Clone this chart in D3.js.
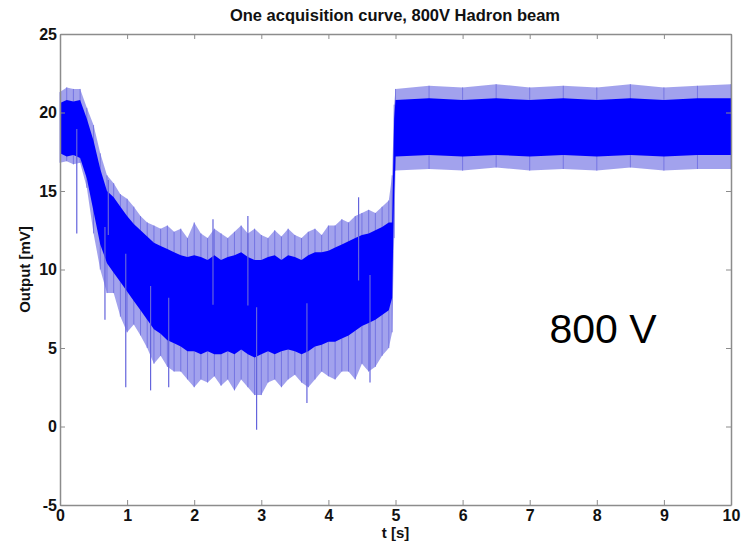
<!DOCTYPE html>
<html>
<head>
<meta charset="utf-8">
<script src="https://cdn.jsdelivr.net/npm/d3@7"></script>
<style>
  body { margin: 0; background: #fff; }
  text { font-family: "Liberation Sans", Arial, Helvetica, sans-serif; }
</style>
</head>
<body>
<div id="graph"></div>
<script>
// envelope of the acquisition (t in s, values in mV)
var times  = [0, .1, .2, .3, .4, .5, .6, .7, .8, .9,
              1, 1.1, 1.2, 1.3, 1.4, 1.5, 1.6, 1.7, 1.8, 1.9,
              2, 2.1, 2.2, 2.3, 2.4, 2.5, 2.6, 2.7, 2.8, 2.9,
              3, 3.1, 3.2, 3.3, 3.4, 3.5, 3.6, 3.7, 3.8, 3.9,
              4, 4.1, 4.2, 4.3, 4.4, 4.5, 4.6, 4.7, 4.8, 4.9,
              4.95, 4.98, 5, 5.5, 6, 6.5, 7, 7.5, 8, 8.5, 9, 9.5, 10]
var peakHi = [21.3, 21.6, 21.5, 21.5, 20.3, 19.2, 17.4, 16.0, 15.5, 14.8,
              14.5, 14.0, 13.4, 13.0, 12.8, 12.6, 12.8, 12.4, 12.6, 12.0,
              13.0, 12.3, 12.0, 12.6, 12.3, 12.0, 12.4, 12.8, 12.3, 12.6,
              12.2, 12.0, 12.5, 12.1, 12.6, 12.2, 12.0, 12.4, 12.6, 12.2,
              12.8, 12.8, 13.2, 13.0, 13.4, 13.6, 13.8, 13.6, 14.0, 14.4,
              16.0, 20.5, 21.5, 21.7, 21.6, 21.8, 21.6, 21.7, 21.6, 21.8, 21.6, 21.7, 21.8]
var coreHi = [20.6, 20.8, 20.7, 20.8, 19.6, 18.2, 16.4, 15.0, 14.6, 14.0,
              13.4, 12.9, 12.5, 12.1, 11.7, 11.5, 11.3, 11.1, 10.9, 10.8,
              10.9, 10.8, 10.6, 10.9, 10.6, 10.8, 10.9, 11.1, 10.8, 10.6,
              10.6, 10.8, 10.9, 10.6, 10.9, 10.8, 10.6, 10.9, 11.1, 11.1,
              11.2, 11.4, 11.6, 11.8, 12.0, 12.2, 12.3, 12.5, 12.7, 13.0,
              13.0, 19.6, 20.8, 20.9, 20.8, 20.9, 20.8, 20.9, 20.8, 20.9, 20.8, 20.9, 20.9]
var coreLo = [17.4, 17.2, 17.3, 17.1, 15.8, 13.7, 11.6, 10.4, 9.8, 9.2,
              8.6, 8.0, 7.4, 6.8, 6.2, 5.9, 5.5, 5.3, 5.1, 4.8,
              4.8, 4.6, 4.8, 4.6, 4.6, 4.8, 4.6, 4.9, 4.6, 4.4,
              4.6, 4.8, 4.6, 4.8, 4.9, 4.8, 4.6, 4.8, 5.1, 5.2,
              5.4, 5.4, 5.6, 5.8, 6.1, 6.4, 6.6, 6.8, 7.1, 7.4,
              8.2, 15.0, 17.2, 17.3, 17.2, 17.3, 17.2, 17.3, 17.2, 17.3, 17.2, 17.3, 17.3]
var peakLo = [16.8, 16.9, 16.7, 16.8, 15.2, 12.3, 10.0, 8.5, 8.5, 7.0,
              6.0, 6.5, 5.8, 5.0, 4.0, 4.5, 3.8, 3.5, 3.5, 3.0,
              2.5, 3.0, 2.8, 3.2, 2.6, 3.0, 2.3, 3.0, 2.5, 2.0,
              2.0, 2.8, 3.0, 2.5, 3.0, 3.3, 2.8, 2.5, 3.0, 3.5,
              3.2, 3.0, 3.5, 3.5, 3.0, 4.0, 3.5, 3.8, 4.5, 5.0,
              6.0, 12.0, 16.3, 16.4, 16.3, 16.5, 16.3, 16.4, 16.3, 16.5, 16.3, 16.4, 16.4]

// isolated spikes standing out of the band
var spikeT = [0.25, 0.67, 0.72, 0.98, 1.35, 1.62, 2.28, 2.8, 2.93, 3.68, 4.45, 4.62]
var spikeV = [12.3, 6.8, 15.7, 2.5, 2.3, 2.5, 13.2, 13.4, -0.2, 1.5, 14.6, 2.8]

var xTicks = d3.range(0, 11)
var yTicks = [-5, 0, 5, 10, 15, 20, 25]

var W = 756, H = 545
var L = 60, R = 731, T = 34, B = 505

var svg = d3.select('#graph').append('svg')
  .attr('width', W).attr('height', H)

var x = d3.scaleLinear().domain([0, 10]).range([L, R])
var y = d3.scaleLinear().domain([-5, 25]).range([B, T])

var pts = times.map((t, i) => ({t, ph: peakHi[i], ch: coreHi[i], cl: coreLo[i], pl: peakLo[i]}))

// light band of spikes
svg.append('path')
  .datum(pts)
  .attr('d', d3.area().x(d => x(d.t)).y0(d => y(d.pl)).y1(d => y(d.ph)))
  .attr('fill', '#7b7be6')
  .attr('fill-opacity', .7)

svg.append('g').selectAll('line')
  .data(pts).join('line')
  .attr('x1', d => x(d.t)).attr('x2', d => x(d.t))
  .attr('y1', d => y(d.pl)).attr('y2', d => y(d.ph))
  .attr('stroke', '#6a6ae0')
  .attr('stroke-width', .8)

// dense core of the signal
svg.append('path')
  .datum(pts)
  .attr('d', d3.area().x(d => x(d.t)).y0(d => y(d.cl)).y1(d => y(d.ch)))
  .attr('fill', '#0000ff')

// spikes, drawn from the middle of the core
var coreMid = t => {
  var i = d3.bisectLeft(times, t)
  return (coreHi[i] + coreLo[i]) / 2
}
svg.append('g').selectAll('line')
  .data(spikeT).join('line')
  .attr('x1', d => x(d)).attr('x2', d => x(d))
  .attr('y1', d => y(coreMid(d)))
  .attr('y2', (d, i) => y(spikeV[i]))
  .attr('stroke', '#6464dc')
  .attr('stroke-width', 1.2)

// axes, matlab style box with inward ticks
var grey = '#8c8c8c'
function style(g, labels) {
  g.select('.domain').attr('stroke', grey).attr('stroke-width', 1.5)
  g.selectAll('.tick line').attr('stroke', grey)
  g.selectAll('.tick text')
    .attr('fill', '#111')
    .style('font-size', labels ? '16px' : '0px')
    .style('font-weight', 'bold')
}

var fmt = d => String(d)

svg.append('g').attr('transform', `translate(0,${B})`)
  .call(d3.axisBottom(x).tickValues(xTicks).tickFormat(fmt).tickSizeInner(-5).tickSizeOuter(0).tickPadding(5))
  .call(g => style(g, true))
svg.append('g').attr('transform', `translate(0,${T})`)
  .call(d3.axisTop(x).tickValues(xTicks).tickSizeInner(-5).tickSizeOuter(0).tickFormat(''))
  .call(g => style(g, false))
svg.append('g').attr('transform', `translate(${L},0)`)
  .call(d3.axisLeft(y).tickValues(yTicks).tickFormat(fmt).tickSizeInner(-5).tickSizeOuter(0).tickPadding(3))
  .call(g => style(g, true))
svg.append('g').attr('transform', `translate(${R},0)`)
  .call(d3.axisRight(y).tickValues(yTicks).tickSizeInner(-5).tickSizeOuter(0).tickFormat(''))
  .call(g => style(g, false))

svg.append('text')
  .attr('x', 395).attr('y', 21)
  .attr('text-anchor', 'middle')
  .style('font-size', '16.5px').style('font-weight', 'bold')
  .attr('fill', '#111')
  .text('One acquisition curve, 800V Hadron beam')

svg.append('text')
  .attr('x', (L + R) / 2).attr('y', 538)
  .attr('text-anchor', 'middle')
  .style('font-size', '15px').style('font-weight', 'bold')
  .attr('fill', '#111')
  .text('t [s]')

svg.append('text')
  .attr('transform', `translate(30,${(T + B) / 2}) rotate(-90)`)
  .attr('text-anchor', 'middle')
  .style('font-size', '15px').style('font-weight', 'bold')
  .attr('fill', '#111')
  .text('Output [mV]')

svg.append('text')
  .attr('x', 603).attr('y', 343)
  .attr('text-anchor', 'middle')
  .style('font-size', '41px')
  .attr('fill', '#000')
  .text('800 V')
</script>
</body>
</html>
